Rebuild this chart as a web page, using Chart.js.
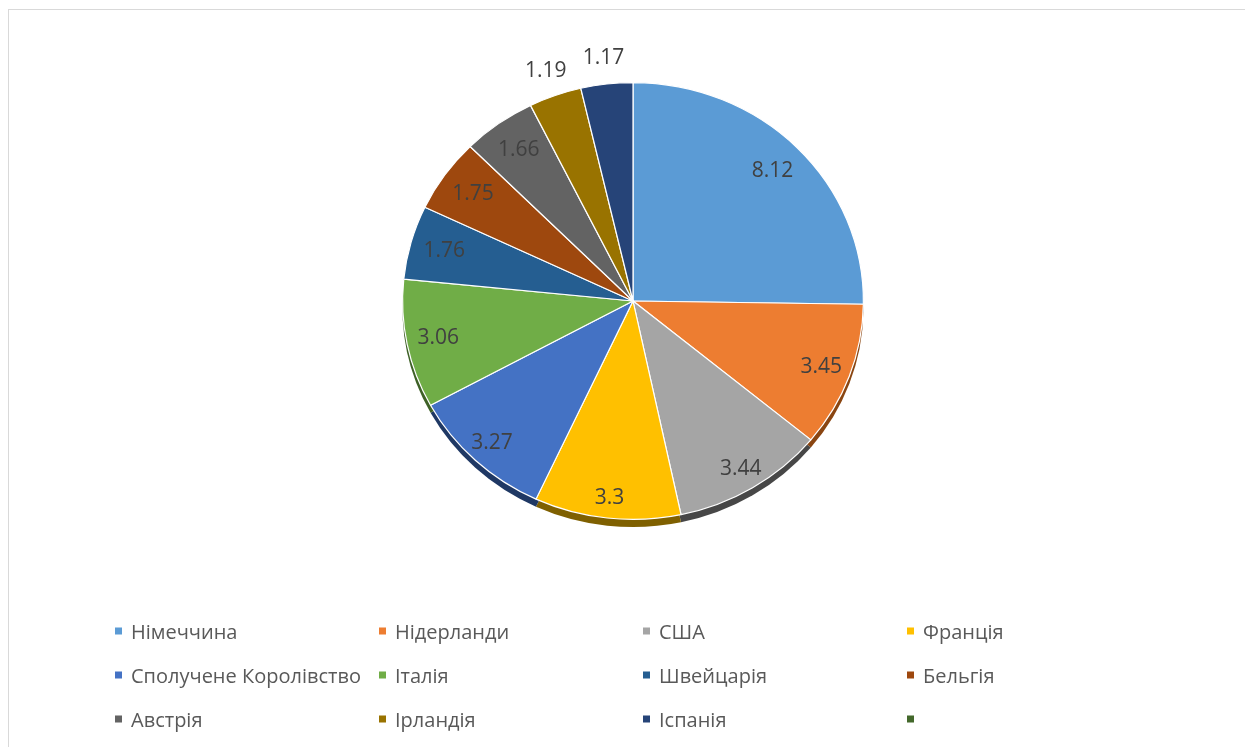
<!DOCTYPE html>
<html>
<head>
<meta charset="utf-8">
<script src="https://cdn.jsdelivr.net/npm/chart.js@4/dist/chart.umd.min.js"></script>
<style>
  html, body { margin: 0; padding: 0; width: 1245px; height: 747px; overflow: hidden; background: #fff; }
  #frame { position: absolute; left: 8px; top: 9px; width: 1300px; height: 800px; border: 1px solid #d9d9d9; box-sizing: border-box; }
  #c { position: absolute; left: 0; top: 0; }
  #legend { position: absolute; left: 0; top: 0; width: 1245px; height: 747px; pointer-events: none; }
  .item { position: absolute; font-family: "Open Sans", Lato, sans-serif; font-size: 20px; color: #595959; white-space: nowrap; transform: translateY(-50%); display: flex; align-items: center; }
  .mk { width: 7px; height: 7px; margin-right: 9px; display: inline-block; }
</style>
</head>
<body>
<div id="frame"></div>
<canvas id="c" width="1245" height="747"></canvas>
<div id="legend"></div>
<script>
const labels = ['Німеччина','Нідерланди','США','Франція','Сполучене Королівство','Італія','Швейцарія','Бельгія','Австрія','Ірландія','Іспанія',''];
const values = [8.12, 3.45, 3.44, 3.3, 3.27, 3.06, 1.76, 1.75, 1.66, 1.19, 1.17, null];
const colors = ['#5B9BD5','#ED7D31','#A5A5A5','#FFC000','#4472C4','#70AD47','#255E91','#9E480E','#636363','#997300','#264478','#43682B'];
const depthColors = ['#2E5D8A','#8A4511','#474747','#7F6000','#1F3864','#3E6127','#153552','#5A2808','#333333','#574100','#14253F','#263B18'];

const SY = 0.948;   // vertical squash of the pie (tilted look)
const DEPTH = 8;    // thickness of the pie edge

const pie3d = {
  id: 'pie3d',
  beforeDatasetsDraw(chart) {
    const ctx = chart.ctx;
    const meta = chart.getDatasetMeta(0);
    const first = meta.data[0];
    const cx = first.x, cy = first.y;
    ctx.save();
    ctx.translate(cx, cy); ctx.scale(1, SY); ctx.translate(-cx, -cy);
    meta.data.forEach((el, i) => {
      const p = el.getProps(['startAngle','endAngle','outerRadius','x','y'], true);
      if (!(p.endAngle > p.startAngle)) return;
      ctx.beginPath();
      ctx.moveTo(p.x, p.y + DEPTH);
      ctx.arc(p.x, p.y + DEPTH, p.outerRadius, p.startAngle, p.endAngle);
      ctx.closePath();
      ctx.fillStyle = depthColors[i];
      ctx.fill();
    });
  },
  afterDatasetsDraw(chart) {
    const ctx = chart.ctx;
    ctx.restore();
    const meta = chart.getDatasetMeta(0);
    ctx.save();
    ctx.font = '21px "Open Sans", Lato, sans-serif';
    ctx.fillStyle = '#404040';
    ctx.textAlign = 'center';
    ctx.textBaseline = 'middle';
    meta.data.forEach((el, i) => {
      const v = values[i];
      if (v == null) return;
      const p = el.getProps(['startAngle','endAngle','outerRadius','x','y'], true);
      const span = p.endAngle - p.startAngle;
      const mid = (p.startAngle + p.endAngle) / 2;
      const f = span < 15 * Math.PI / 180 ? 1.12 : 0.85 + 0.06 * Math.max(0, Math.sin(mid));
      const x = p.x + Math.cos(mid) * p.outerRadius * f;
      const y = p.y + Math.sin(mid) * p.outerRadius * f * SY;
      ctx.fillText(String(v), x, y);
    });
    ctx.restore();
  }
};

new Chart(document.getElementById('c'), {
  type: 'pie',
  data: {
    labels: labels,
    datasets: [{
      data: values,
      backgroundColor: colors,
      borderColor: '#ffffff',
      borderWidth: 1.2
    }]
  },
  options: {
    responsive: false,
    animation: false,
    events: [],
    layout: { padding: { left: 402, right: 381, top: 70, bottom: 215 } },
    plugins: { legend: { display: false }, tooltip: { enabled: false } }
  },
  plugins: [pie3d]
});

const legend = document.getElementById('legend');
labels.forEach((lab, i) => {
  const col = i % 4, row = Math.floor(i / 4);
  const d = document.createElement('div');
  d.className = 'item';
  d.style.left = (115 + col * 264) + 'px';
  d.style.top = (631 + row * 44) + 'px';
  const m = document.createElement('span');
  m.className = 'mk';
  m.style.background = colors[i];
  d.appendChild(m);
  const t = document.createElement('span');
  t.textContent = lab;
  d.appendChild(t);
  legend.appendChild(d);
});
</script>
</body>
</html>
